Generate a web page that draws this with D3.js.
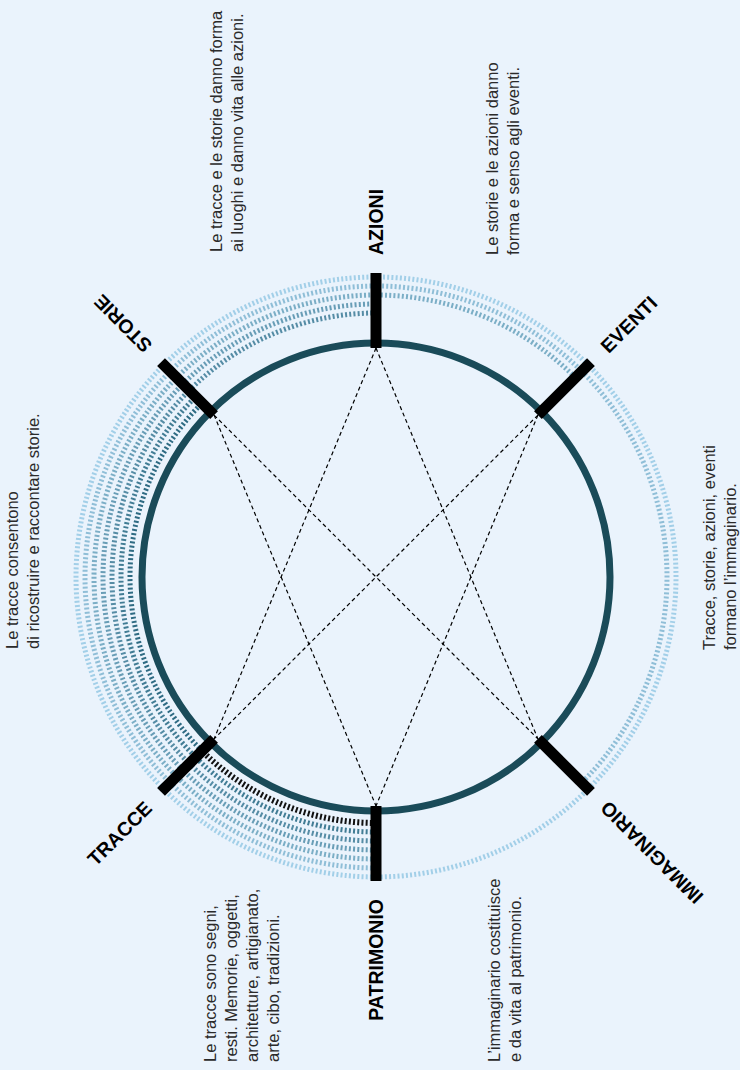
<!DOCTYPE html>
<html>
<head>
<meta charset="utf-8">
<script src="https://cdn.jsdelivr.net/npm/d3@7"></script>
<style>
    html, body { margin: 0; padding: 0; background: #eaf3fc; }
    svg { display: block; }
</style>
</head>
<body>
<div id="chart"></div>
<script>
// nodes and their compass angle (degrees, 0 = top, clockwise)
const nodeNames = ['AZIONI', 'EVENTI', 'IMMAGINARIO', 'PATRIMONIO', 'TRACCE', 'STORIE'];
const nodeAngles = [0, 45, 135, 180, 225, 315];

// dashed chords
const linkFrom = ['AZIONI', 'AZIONI', 'STORIE', 'STORIE', 'EVENTI', 'EVENTI'];
const linkTo = ['TRACCE', 'IMMAGINARIO', 'PATRIMONIO', 'IMMAGINARIO', 'TRACCE', 'PATRIMONIO'];

// outer dashed rings (clockwise from -> to), level 0 = innermost
const ringFrom = ['PATRIMONIO', 'PATRIMONIO', 'PATRIMONIO', 'PATRIMONIO', 'PATRIMONIO', 'PATRIMONIO', 'TRACCE', 'PATRIMONIO'];
const ringTo = ['PATRIMONIO', 'IMMAGINARIO', 'EVENTI', 'AZIONI', 'AZIONI', 'STORIE', 'STORIE', 'TRACCE'];
const ringLevel = [6, 5, 4, 3, 2, 1, 0, 0];
const ringDark = [false, false, false, false, false, false, false, true];

// side notes
const noteLines = [
    ['Le tracce e le storie danno forma', 'ai luoghi e danno vita alle azioni.'],
    ['Le storie e le azioni danno', 'forma e senso agli eventi.'],
    ['Le tracce consentono', 'di ricostruire e raccontare storie.'],
    ['Tracce, storie, azioni, eventi', 'formano l\u2019immaginario.'],
    ['Le tracce sono segni,', 'resti. Memorie, oggetti,', 'architetture, artigianato,', 'arte, cibo, tradizioni.'],
    ['L\u2019immaginario costituisce', 'e da vita al patrimonio.']
];
const notePos = [[222, 252], [498, 255], [18, 649], [715, 650], [216, 1062], [500, 1062]];

const width = 740;
const height = 1070;
const cx = 376;
const cy = 577;
const circleR = 234;
const barInner = 229;
const barOuter = 304;
const labelR = 322;

const svg = d3.select('#chart')
    .append('svg')
    .attr('width', width)
    .attr('height', height);

svg.append('rect')
    .attr('width', width)
    .attr('height', height)
    .attr('fill', '#eaf3fc');

const g = svg.append('g')
    .attr('transform', `translate(${cx}, ${cy})`);

const angle = d3.scaleOrdinal().domain(nodeNames).range(nodeAngles);
const ringRadius = d3.scaleLinear().domain([0, 6]).range([246, 300]);
const ringColor = d3.scaleLinear().domain([0, 6]).range(['#2e6b83', '#a2cfe8']);

// compass degrees -> screen radians
const rad = deg => (deg - 90) * Math.PI / 180;
const point = (name, r) => [r * Math.cos(rad(angle(name))), r * Math.sin(rad(angle(name)))];

// rings
const rings = ringFrom.map((from, i) => {
    const a0 = angle(from);
    let a1 = angle(ringTo[i]);
    if (a1 <= a0) a1 += 360;
    return { a0, a1, level: ringLevel[i], dark: ringDark[i] };
});

g.selectAll('.ring')
    .data(rings)
    .enter()
    .append('path')
    .attr('class', 'ring')
    .attr('d', d => {
        const p = d3.path();
        const r = ringRadius(d.level);
        p.arc(0, 0, r, rad(d.a0), rad(d.a1), false);
        return p.toString();
    })
    .attr('fill', 'none')
    .attr('stroke', d => d.dark ? '#111' : ringColor(d.level))
    .attr('stroke-width', d => d.dark ? 6 : 5)
    .attr('stroke-dasharray', '2,2.2');

// main circle
g.append('circle')
    .attr('r', circleR)
    .attr('fill', 'none')
    .attr('stroke', '#1a4b59')
    .attr('stroke-width', 7);

// dashed chords
g.selectAll('.link')
    .data(linkFrom.map((f, i) => [f, linkTo[i]]))
    .enter()
    .append('line')
    .attr('class', 'link')
    .attr('x1', d => point(d[0], barInner)[0])
    .attr('y1', d => point(d[0], barInner)[1])
    .attr('x2', d => point(d[1], barInner)[0])
    .attr('y2', d => point(d[1], barInner)[1])
    .attr('stroke', '#000')
    .attr('stroke-width', 1.2)
    .attr('stroke-dasharray', '4,3');

// node bars
g.selectAll('.bar')
    .data(nodeNames)
    .enter()
    .append('line')
    .attr('class', 'bar')
    .attr('x1', d => point(d, barInner)[0])
    .attr('y1', d => point(d, barInner)[1])
    .attr('x2', d => point(d, barOuter)[0])
    .attr('y2', d => point(d, barOuter)[1])
    .attr('stroke', '#000')
    .attr('stroke-width', 11);

// node labels
g.selectAll('.label')
    .data(nodeNames)
    .enter()
    .append('text')
    .attr('class', 'label')
    .attr('transform', d => {
        const [x, y] = point(d, labelR);
        const top = Math.sin(rad(angle(d))) < 0;
        const rot = top ? angle(d) - 90 : angle(d) - 270;
        return `translate(${x}, ${y}) rotate(${rot})`;
    })
    .attr('dy', '0.36em')
    .attr('text-anchor', d => Math.sin(rad(angle(d))) < 0 ? 'start' : 'end')
    .style('font-family', '"Liberation Sans", Arial, Helvetica, sans-serif')
    .style('font-size', '19.5px')
    .style('font-weight', 'bold')
    .style('fill', '#000')
    .text(d => d);

// side notes
const notes = svg.selectAll('.note')
    .data(noteLines)
    .enter()
    .append('text')
    .attr('class', 'note')
    .attr('transform', (d, i) => `translate(${notePos[i][0]}, ${notePos[i][1]}) rotate(-90)`)
    .style('font-family', '"Liberation Sans", Arial, Helvetica, sans-serif')
    .style('font-size', '16.5px')
    .style('fill', '#2a2a2a');

notes.selectAll('tspan')
    .data(d => d)
    .enter()
    .append('tspan')
    .attr('x', 0)
    .attr('y', (d, i) => i * 21)
    .text(d => d);
</script>
</body>
</html>
